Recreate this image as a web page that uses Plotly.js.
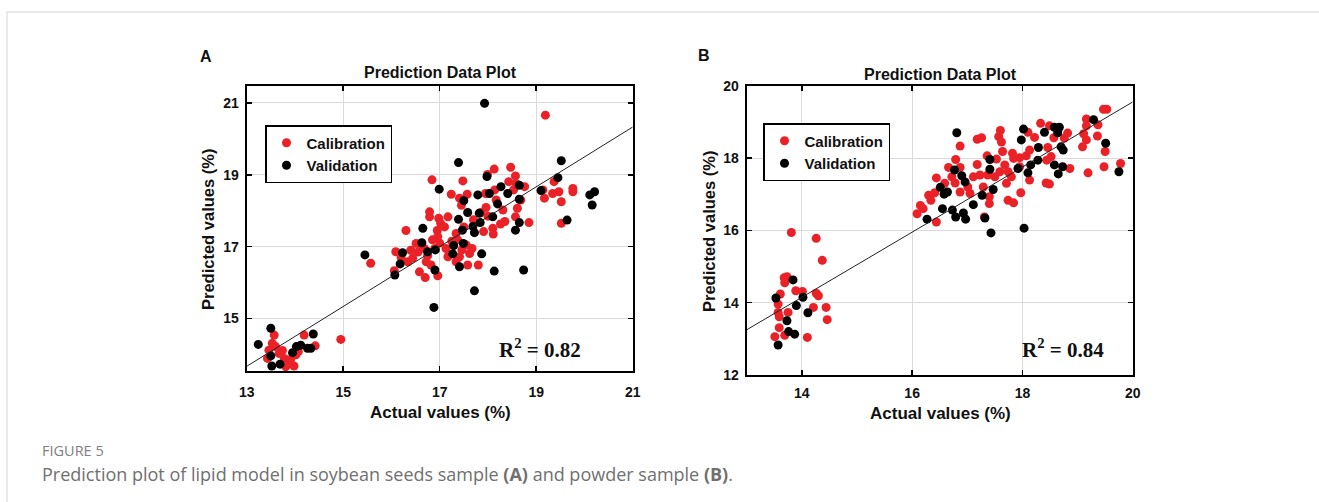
<!DOCTYPE html>
<html>
<head>
<meta charset="utf-8">
<script src="https://cdn.plot.ly/plotly-3.0.1.min.js"></script>
<style>html,body{margin:0;padding:0;background:#fff;}#chart{width:1319px;height:502px;}</style>
</head>
<body>
<div id="chart"></div>
<script>
// ---------- Panel A: soybean seeds sample ----------
var calA_x = [13.57,13.53,13.60,13.46,13.43,13.67,13.74,13.78,13.81,13.88,13.98,13.91,14.02,14.07,14.19,14.42,14.95,
  19.19,18.13,18.47,17.99,18.57,18.43,18.58,18.76,18.53,19.37,19.14,19.34,19.47,19.52,19.17,19.76,19.76,19.52,18.85,
  18.57,18.61,18.68,18.31,18.17,18.14,17.95,17.96,18.26,18.10,18.11,17.91,16.84,17.24,17.48,17.41,17.57,16.79,16.79,
  16.98,17.02,17.17,16.30,16.51,16.68,16.85,16.96,17.13,17.34,17.37,17.46,17.55,17.62,17.67,17.41,17.34,17.58,17.80,
  17.17,16.09,16.34,16.44,16.72,16.82,16.58,16.70,16.96,16.06,15.57,
  16.55,16.62,16.75,16.90,17.00,16.40,17.25,17.50,17.70,18.00,17.85,18.35,16.95,17.10,16.20,17.45];
var calA_y = [14.54,14.31,14.22,14.12,13.89,14.03,14.11,13.89,13.66,13.75,13.68,13.86,13.99,14.08,14.54,14.24,14.42,
  20.66,19.16,19.21,19.01,18.97,18.81,18.76,18.67,18.58,18.81,18.58,18.48,18.53,18.25,18.35,18.62,18.53,17.65,17.67,
  17.83,18.07,18.30,18.02,18.30,18.58,18.48,18.09,17.63,17.51,17.35,17.42,18.86,18.46,18.83,18.35,18.46,17.97,17.83,
  17.79,17.65,17.83,17.45,17.09,16.95,17.19,17.28,16.95,17.37,17.19,16.91,17.05,16.81,16.95,16.72,16.58,16.49,16.49,
  16.72,16.86,16.58,16.68,16.58,16.49,16.30,16.14,16.19,16.33,16.54,
  16.85,17.00,16.75,16.95,17.10,16.90,17.15,17.55,17.75,17.85,17.95,17.70,17.45,17.55,16.70,18.15];
var valA_x = [13.24,13.50,13.50,13.52,13.69,13.95,14.03,14.12,14.26,14.33,14.38,
  17.93,17.39,19.52,19.45,17.98,16.99,18.27,18.41,18.65,18.65,19.10,20.11,20.21,20.16,19.64,18.65,18.57,18.03,17.79,
  17.82,18.10,18.20,17.50,17.58,17.39,17.47,17.69,17.72,17.84,17.49,17.29,17.27,17.41,16.91,16.75,16.63,16.65,16.23,
  16.18,16.07,15.45,16.90,16.88,17.72,18.13,18.74,17.87];
var valA_y = [14.28,14.73,13.96,13.68,13.73,14.05,14.22,14.26,14.17,14.17,14.57,
  20.99,19.34,19.39,18.92,18.95,18.60,18.67,18.48,18.71,18.32,18.56,18.44,18.53,18.16,17.74,17.67,17.46,18.48,18.44,
  17.93,17.83,18.19,18.28,17.95,17.76,17.46,17.56,17.39,17.67,17.09,17.03,16.80,16.44,16.91,16.86,17.11,17.51,16.83,
  16.52,16.21,16.77,16.35,15.31,15.77,16.32,16.35,16.80];
var fitA_x = [13, 21];
var fitA_y = [13.67, 20.33];

// ---------- Panel B: powder sample ----------
var calB_x = [13.81,14.26,14.37,13.73,13.68,13.69,13.61,13.89,14.01,14.26,14.30,13.57,13.57,13.59,13.75,14.21,14.44,14.46,13.59,13.51,13.69,14.10,
  19.47,19.53,19.16,19.37,19.16,19.11,19.16,19.09,19.36,19.50,19.48,19.78,19.19,18.33,18.49,18.82,18.76,18.57,18.22,18.10,
  17.60,17.57,17.62,17.18,17.26,16.87,16.79,16.66,16.87,17.18,17.36,17.53,17.64,17.82,17.84,17.95,18.07,18.13,18.46,18.52,
  18.44,18.86,18.13,17.97,17.80,17.71,17.68,17.59,17.50,17.37,17.23,17.11,17.01,17.05,16.87,16.78,16.59,16.44,16.41,16.30,
  16.34,16.15,16.09,16.20,16.44,17.40,17.40,17.74,17.84,18.43,18.49,17.95,17.74,17.29,16.72,17.31];
var calB_y = [15.94,15.78,15.17,14.72,14.69,14.55,14.24,14.33,14.31,14.26,14.19,13.96,13.73,13.61,13.73,13.87,13.87,13.53,13.31,13.06,13.10,13.04,
  19.35,19.35,19.08,18.92,18.89,18.67,18.50,18.31,18.61,18.18,17.76,17.85,17.59,18.96,18.89,18.69,18.55,18.56,18.57,18.71,
  18.76,18.59,18.44,18.52,18.56,18.33,17.96,17.74,17.74,17.82,18.06,17.97,18.18,18.13,17.99,18.01,18.06,18.22,18.29,18.04,
  17.94,17.71,17.39,17.04,17.48,17.30,17.81,17.62,17.48,17.53,17.53,17.48,17.20,17.02,17.06,17.31,17.30,17.45,17.04,16.97,
  16.83,16.69,16.46,16.60,16.23,16.93,16.74,16.83,16.76,17.31,17.28,17.76,17.62,17.20,17.48,16.37];
var valB_x = [13.84,13.53,14.02,13.90,14.11,13.73,13.76,13.87,13.57,
  16.81,18.02,18.58,18.67,18.40,18.64,19.29,17.98,18.29,18.70,18.74,19.51,18.28,18.15,17.92,18.10,18.58,18.73,18.65,19.75,
  17.41,17.41,17.47,16.77,16.90,16.96,16.51,16.58,16.64,17.27,17.11,16.55,16.73,16.93,16.79,16.97,17.32,16.27,17.43,18.03];
var valB_y = [14.63,14.13,14.15,13.92,13.72,13.50,13.20,13.13,12.83,
  18.70,18.80,18.85,18.85,18.71,18.70,19.06,18.50,18.29,18.31,18.22,18.41,17.94,17.81,17.71,17.59,17.81,17.76,17.56,17.62,
  17.96,17.69,17.13,17.67,17.51,17.34,17.19,17.00,17.06,16.97,16.71,16.60,16.56,16.48,16.37,16.31,16.34,16.31,15.93,16.06];
var fitB_x = [13, 20];
var fitB_y = [13.25, 19.55];

var xTicksA = [13, 15, 17, 19, 21];
var yTicksA = [15, 17, 19, 21];
var xTicksB = [14, 16, 18, 20];
var yTicksB = [12, 14, 16, 18, 20];

var RED = '#ea2228';
var SANS = 'Liberation Sans, Arial, sans-serif';
var mk = 9;

var traces = [
  {x: calA_x, y: calA_y, xaxis: 'x', yaxis: 'y', mode: 'markers', type: 'scatter', name: 'Calibration',
   marker: {color: RED, size: mk}, legend: 'legend'},
  {x: valA_x, y: valA_y, xaxis: 'x', yaxis: 'y', mode: 'markers', type: 'scatter', name: 'Validation',
   marker: {color: '#000', size: mk}, legend: 'legend'},
  {x: fitA_x, y: fitA_y, xaxis: 'x', yaxis: 'y', mode: 'lines', type: 'scatter', showlegend: false,
   line: {color: '#222', width: 1}},
  {x: calB_x, y: calB_y, xaxis: 'x2', yaxis: 'y2', mode: 'markers', type: 'scatter', name: 'Calibration',
   marker: {color: RED, size: mk}, legend: 'legend2'},
  {x: valB_x, y: valB_y, xaxis: 'x2', yaxis: 'y2', mode: 'markers', type: 'scatter', name: 'Validation',
   marker: {color: '#000', size: mk}, legend: 'legend2'},
  {x: fitB_x, y: fitB_y, xaxis: 'x2', yaxis: 'y2', mode: 'lines', type: 'scatter', showlegend: false,
   line: {color: '#222', width: 1}}
];

function ax(domain, range, tickvals, anchor, standoff) {
  return {
    domain: domain, range: range, tickvals: tickvals, anchor: anchor,
    showline: true, linewidth: 2, linecolor: '#000', mirror: 'ticks',
    ticks: 'inside', ticklen: 5, tickwidth: 1.5, tickcolor: '#000',
    showgrid: true, gridcolor: '#dadada', gridwidth: 1, zeroline: false,
    tickfont: {family: SANS, size: 14, color: '#111', weight: 'bold'},
    ticklabelstandoff: standoff,
    fixedrange: true
  };
}

function W(px) { return px / 1319; }
function H(py) { return 1 - py / 502; }

var legendBase = {
  xanchor: 'left', yanchor: 'top', bgcolor: '#fff', bordercolor: '#000', borderwidth: 1.5,
  font: {family: SANS, size: 15, color: '#111', weight: 'bold'}, tracegroupgap: 0, itemwidth: 30
};

var ann = [];
function addText(text, px, py, size, opts) {
  var a = Object.assign({text: text, x: W(px), y: H(py), xref: 'paper', yref: 'paper', showarrow: false,
    xanchor: 'center', yanchor: 'middle', font: {family: SANS, size: size, color: '#111', weight: 'bold'}}, opts || {});
  ann.push(a);
}
addText('A', 206, 56, 16);
addText('B', 704, 55, 16);
addText('Prediction Data Plot', 440, 73, 16);
addText('Prediction Data Plot', 940, 75, 16);
addText('Actual values (%)', 440, 412, 17);
addText('Actual values (%)', 940, 413, 17);
addText('Predicted values (%)', 208, 230, 16.5, {textangle: -90});
addText('Predicted values (%)', 709, 232, 16.5, {textangle: -90});
var SERIF = {family: 'Liberation Serif, Times New Roman, serif', size: 21, color: '#111', weight: 'bold'};
addText('R<sup>2</sup> = 0.82', 540, 348, 21, {font: SERIF});
addText('R<sup>2</sup> = 0.84', 1063, 348, 21, {font: SERIF});
addText('FIGURE 5', 40, 450, 14.5, {xanchor: 'left', font: {family: 'Open Sans, sans-serif', size: 14.5, color: '#808080'}});
addText('Prediction plot of lipid model in soybean seeds sample <b>(A)</b> and powder sample <b>(B)</b>.', 40, 474, 18,
  {xanchor: 'left', font: {family: 'Open Sans, sans-serif', size: 18, color: '#707070'}});

var layout = {
  width: 1319, height: 502, margin: {l: 0, r: 0, t: 0, b: 0},
  paper_bgcolor: '#fff', plot_bgcolor: '#fff', showlegend: true,
  xaxis: ax([W(246.7), W(632.7)], [13, 21], xTicksA, 'y', 7),
  yaxis: ax([H(371), H(85.7)], [13.54, 21.48], yTicksA, 'x', 3),
  xaxis2: ax([W(746.7), W(1132.7)], [13, 20], xTicksB, 'y2', 4),
  yaxis2: ax([H(375), H(85.7)], [12, 20], yTicksB, 'x2', 3),
  legend: Object.assign({x: W(265), y: H(125)}, legendBase),
  legend2: Object.assign({x: W(763), y: H(123)}, legendBase),
  annotations: ann,
  shapes: [
    {type: 'line', xref: 'paper', yref: 'paper', x0: W(7), x1: 1, y0: H(12), y1: H(12), line: {color: '#d4d4d4', width: 1}},
    {type: 'line', xref: 'paper', yref: 'paper', x0: W(7), x1: W(7), y0: 0, y1: H(12), line: {color: '#d4d4d4', width: 1}}
  ]
};

Plotly.newPlot('chart', traces, layout, {displayModeBar: false, staticPlot: true});
</script>
</body>
</html>
